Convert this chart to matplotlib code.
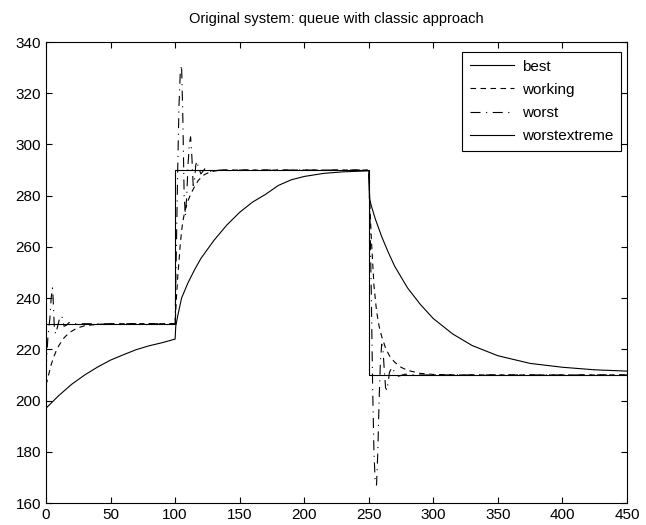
import matplotlib
matplotlib.use("Agg")
import matplotlib.pyplot as plt

plt.rcParams['font.family'] = ['Liberation Sans', 'DejaVu Sans']

# values
best_x = [0, 100, 100, 250, 250, 450]
best_y = [230, 230, 290, 290, 210, 210]

working_x = [0, 2, 4, 6, 8, 10, 14, 18, 24, 30, 40, 60, 100,
             101, 102, 104, 105, 106, 108, 110, 112, 115, 118, 122, 127, 135, 250,
             251, 252, 254, 256, 258, 260, 263, 266, 270, 275, 280, 290, 300, 320, 450]
working_y = [206, 210, 214, 217, 219.5, 221.5, 224.5, 226.5, 228.3, 229.2, 229.8, 230, 230,
             240, 248, 261, 266, 270, 275, 278, 280.5, 283.5, 286, 288, 289.3, 290, 290,
             275, 263, 245, 235, 229, 225, 220.5, 217.5, 215, 213, 211.8, 210.6, 210.2, 210, 210]

worst_x = [0, 1.5, 3, 4, 5, 5.5, 6.5, 7.5, 9, 11, 12.5, 14, 16, 18, 22, 30, 100,
           101, 102, 103, 104, 105, 106, 107, 108, 109, 110, 111, 112, 113, 114, 115,
           116, 117, 118, 120, 123, 127, 135, 250,
           251, 252, 253, 254, 255, 256, 257, 258, 259, 260, 261, 262, 263, 264, 265,
           266, 268, 270, 273, 278, 285, 450]
worst_y = [212, 225, 232, 240, 244, 240, 228, 226, 229, 233, 232.5, 229, 229.5, 230.5, 230, 230, 230,
           260, 290, 315, 328, 331, 310, 280, 272, 280, 292, 300, 303, 295, 284, 286,
           292, 293.5, 291, 288.5, 290.5, 289.5, 290, 290,
           270, 240, 205, 180, 168, 167, 180, 200, 215, 222, 220, 212, 205, 204, 207,
           211, 213, 211, 209.5, 210.3, 210, 210]

extreme_x = [0, 10, 20, 30, 40, 50, 60, 70, 80, 90, 100,
             100.5, 102, 105, 110, 115, 120, 125, 130, 140, 150, 160, 170, 180, 190,
             200, 215, 230, 250,
             250.5, 252, 255, 260, 265, 270, 280, 290, 300, 315, 330, 350, 375, 400, 425, 450]
extreme_y = [197, 202, 206.4, 210, 213.1, 215.8, 217.9, 219.9, 221.4, 222.6, 224,
             229, 233, 240, 246, 251, 255.5, 259, 262.5, 268.5, 273.5, 277.5, 280.5, 284, 286.2,
             287.5, 288.7, 289.3, 289.7,
             279, 276, 271, 264, 258, 252.5, 244, 237.5, 232, 226, 221.5, 217.5, 214.5, 213, 212, 211.5]

fig = plt.figure(figsize=(6.46, 5.25), dpi=100)
ax = fig.add_axes([46/646, 22/525, 581/646, 461/525])

ax.plot(best_x, best_y, color='k', lw=0.8, ls='-', label='best')
ax.plot(working_x, working_y, color='k', lw=0.8, ls='--', dashes=(5, 4), label='working')
ax.plot(worst_x, worst_y, color='k', lw=0.8, ls=(0, (9, 5, 1, 5)), label='worst')
ax.plot(extreme_x, extreme_y, color='k', lw=0.8, ls='-', label='worstextreme')

ax.set_xlim(0, 450)
ax.set_ylim(160, 340)
ax.set_xticks(range(0, 451, 50))
ax.set_yticks(range(160, 341, 20))
ax.tick_params(direction='in', top=True, right=True, length=4, width=0.8, labelsize=11)
for s in ax.spines.values():
    s.set_linewidth(0.8)

ax.set_title('Original system: queue with classic approach', fontsize=10.5, pad=14)

leg = ax.legend(loc='upper right', bbox_to_anchor=(621/646, 1 - 52/525),
                bbox_transform=fig.transFigure, borderaxespad=0, fancybox=False,
                edgecolor='k', framealpha=1, fontsize=11, handlelength=2.9,
                handletextpad=0.5, labelspacing=0.6, borderpad=0.5)
leg.get_frame().set_linewidth(0.8)

fig.savefig('out.png', dpi=100)
